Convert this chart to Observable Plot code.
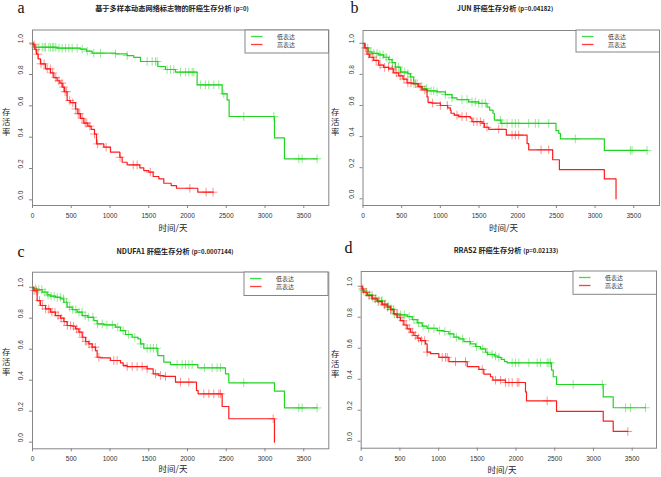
<!DOCTYPE html>
<html><head><meta charset="utf-8">
<script src="https://cdn.jsdelivr.net/npm/d3@7"></script>
<script src="https://cdn.jsdelivr.net/npm/@observablehq/plot@0.6"></script>
<style>
body{margin:0;background:#fff;}
#root{position:relative;width:661px;height:477px;overflow:hidden;background:#fff;font-family:"Noto Sans CJK SC","Liberation Sans",sans-serif;}
.abs{position:absolute;white-space:nowrap;line-height:1;}
.ctr{transform:translate(-50%,-50%);}
.panel{position:absolute;}
.title{font-size:7.2px;font-weight:bold;color:#222;}
.title small{font-size:6px;font-weight:bold;}
.letter{font-family:"Liberation Serif",serif;font-size:16px;color:#111;}
.ylab{font-size:8.4px;color:#222;writing-mode:vertical-rl;text-orientation:upright;letter-spacing:1.6px;transform:translateX(-50%);}
.xlab{font-size:8.5px;color:#222;}
</style></head><body><div id="root"></div>
<script>
// ---------- data ----------
const xTicks = [0, 500, 1000, 1500, 2000, 2500, 3000, 3500];
const yTicks = [0, 0.2, 0.4, 0.6, 0.8, 1.0];
const legendLabels = ["低表达", "高表达"];
const seriesColors = ["#22d422", "#ff1c1c"];
const panelLetters = ["a", "b", "c", "d"];
const panelTitles = ["基于多样本动态网络标志物的肝癌生存分析", "JUN 肝癌生存分析", "NDUFA1 肝癌生存分析", "RRAS2 肝癌生存分析"];
const panelPValues = ["(p=0)", "(p=0.04182)", "(p=0.0007144)", "(p=0.02133)"];
const xLabel = "时间/天";
const yLabel = "存活率";

// step points [time, survival]; last entry = end of follow-up
const aLow = [[0,1],[17,0.974],[318,0.968],[619,0.962],[697,0.949],[770,0.936],[1071,0.932],[1221,0.921],[1307,0.909],[1393,0.883],[1617,0.851],[1716,0.832],[1845,0.815],[2124,0.734],[2447,0.677],[2511,0.638],[2537,0.532],[3122,0.396],[3251,0.262],[3672,0.262]];
const aLowCensor = [40,82,125,150,168,211,232,260,275,300,340,383,426,469,512,576,641,705,791,877,1071,1221,1479,1544,1587,1608,1737,1780,1823,1909,1974,2017,2060,2081,2167,2231,2274,2339,2404,2468,2726,3114,3436,3479,3672];
const aHigh = [[0,1],[9,0.99],[30,0.96],[52,0.93],[73,0.9],[103,0.868],[168,0.836],[232,0.81],[275,0.78],[318,0.76],[353,0.745],[383,0.72],[413,0.69],[447,0.634],[490,0.62],[555,0.58],[585,0.55],[619,0.52],[662,0.49],[714,0.47],[757,0.45],[800,0.42],[826,0.357],[920,0.336],[1006,0.304],[1127,0.272],[1157,0.24],[1221,0.223],[1385,0.204],[1436,0.187],[1500,0.177],[1557,0.149],[1630,0.134],[1694,0.106],[1789,0.091],[1858,0.074],[2133,0.049],[2331,0.049]];
const aHighCensor = [20,45,70,110,150,190,230,260,300,340,380,400,420,440,480,520,560,590,610,640,680,700,740,800,840,950,1130,1300,1350,1520,2030,2240,2330];

const bLow = [[0,1],[30,0.97],[73,0.945],[116,0.935],[203,0.925],[267,0.91],[332,0.895],[375,0.875],[418,0.847],[483,0.815],[578,0.805],[612,0.783],[655,0.74],[707,0.723],[763,0.709],[828,0.694],[957,0.687],[1065,0.67],[1151,0.649],[1215,0.638],[1366,0.623],[1496,0.613],[1603,0.59],[1638,0.57],[1681,0.55],[1698,0.506],[1784,0.485],[2495,0.438],[2530,0.421],[2552,0.385],[3120,0.311],[3672,0.311]];
const bLowCensor = [60,100,140,180,220,260,300,340,380,420,460,500,540,580,620,660,700,760,820,880,914,957,1065,1151,1280,1345,1409,1452,1496,1539,1582,1776,1797,1862,1927,1970,2013,2142,2228,2271,2401,2745,3457,3478,3672];
const bHigh = [[0,1],[17,0.97],[52,0.93],[86,0.91],[138,0.89],[203,0.86],[267,0.845],[332,0.835],[397,0.81],[461,0.79],[517,0.77],[569,0.745],[634,0.74],[720,0.72],[763,0.7],[828,0.655],[841,0.62],[892,0.615],[1000,0.6],[1095,0.585],[1129,0.57],[1138,0.55],[1181,0.538],[1237,0.528],[1388,0.519],[1409,0.496],[1539,0.485],[1569,0.46],[1625,0.447],[1853,0.41],[2121,0.355],[2142,0.315],[2452,0.251],[2539,0.187],[3120,0.128],[3271,0],[3271,0]];
const bHighCensor = [30,70,120,170,220,280,330,380,430,480,530,580,620,680,740,800,900,1000,1090,1215,1280,1336,1431,1474,1517,1560,1603,1754,1927,1970,2013,2302,2401];

const cLow = [[0,1],[17,0.99],[60,0.985],[125,0.968],[189,0.95],[232,0.942],[297,0.935],[361,0.925],[404,0.903],[447,0.871],[512,0.856],[576,0.839],[641,0.817],[714,0.806],[791,0.785],[834,0.763],[920,0.757],[1071,0.742],[1135,0.72],[1200,0.695],[1286,0.677],[1359,0.667],[1393,0.634],[1436,0.606],[1617,0.559],[1694,0.516],[1780,0.501],[2133,0.48],[2490,0.441],[2533,0.383],[3122,0.329],[3251,0.221],[3672,0.221]];
const cLowCensor = [40,80,120,160,200,240,280,320,360,400,440,480,520,560,600,640,680,720,780,840,900,960,1030,1100,1170,1240,1320,1400,1480,1520,1560,1600,1866,1931,1974,2017,2060,2219,2318,2382,2425,2726,3436,3479,3672];
const cHigh = [[0,1],[17,0.978],[60,0.914],[103,0.882],[168,0.86],[232,0.839],[297,0.817],[361,0.8],[404,0.778],[447,0.753],[512,0.748],[555,0.731],[598,0.71],[641,0.677],[684,0.649],[727,0.634],[770,0.613],[813,0.591],[834,0.548],[877,0.544],[1006,0.527],[1135,0.512],[1170,0.495],[1221,0.488],[1479,0.473],[1557,0.441],[1630,0.43],[1694,0.424],[1845,0.387],[2116,0.333],[2137,0.312],[2447,0.23],[2533,0.151],[3122,0],[3122,0]];
const cHighCensor = [20,50,90,130,170,210,250,290,330,370,410,450,490,530,570,610,650,690,730,770,810,856,1049,1092,1221,1286,1350,1415,1479,1587,1651,1716,1909,2017,2210,2275,2339,2404,2425,3105];

const dLow = [[0,1],[13,0.972],[34,0.961],[77,0.944],[142,0.923],[207,0.908],[271,0.886],[336,0.871],[379,0.854],[413,0.822],[443,0.815],[594,0.804],[659,0.785],[723,0.763],[788,0.742],[852,0.729],[982,0.714],[1068,0.708],[1132,0.692],[1197,0.671],[1261,0.66],[1326,0.643],[1412,0.628],[1477,0.611],[1541,0.596],[1606,0.574],[1632,0.56],[1722,0.55],[1765,0.541],[1808,0.528],[1851,0.513],[1886,0.506],[2458,0.459],[2480,0.416],[2523,0.366],[3126,0.286],[3255,0.216],[3672,0.216]];
const dLowCensor = [30,70,110,150,190,230,270,310,350,390,430,470,510,560,620,680,740,800,870,940,1010,1080,1150,1230,1310,1400,1490,1570,1627,1692,1735,1778,1950,1993,2036,2165,2273,2316,2402,2424,2445,2738,3113,3414,3478,3672];
const dHigh = [[0,1],[13,0.983],[34,0.961],[77,0.94],[142,0.918],[207,0.901],[271,0.88],[336,0.865],[379,0.849],[422,0.822],[465,0.8],[508,0.778],[551,0.75],[594,0.725],[637,0.703],[680,0.682],[723,0.665],[766,0.649],[831,0.628],[852,0.575],[895,0.565],[1003,0.541],[1132,0.513],[1369,0.481],[1520,0.463],[1584,0.433],[1670,0.416],[1700,0.394],[1864,0.379],[2122,0.318],[2135,0.26],[2523,0.193],[3126,0.13],[3255,0.063],[3444,0.063]];
const dHighCensor = [20,60,100,140,180,220,260,300,340,380,420,460,500,540,580,620,660,700,740,780,820,852,1046,1089,1111,1218,1347,1563,1735,1800,1864,1907,1950,2015,2036,2402,3444];

const panelSeries = [
  [[aLow, aLowCensor], [aHigh, aHighCensor]],
  [[bLow, bLowCensor], [bHigh, bHighCensor]],
  [[cLow, cLowCensor], [cHigh, cHighCensor]],
  [[dLow, dLowCensor], [dHigh, dHighCensor]]
];

// ---------- layout ----------
const layouts = [
  {left:0, top:0, w:330, h:235, mL:32, mR:1.7, mT:29.5, mB:30, xMax:3823, yDom:[-0.036,1.084],
   title:[172,9], letter:[17.5,13], ylab:[6,113], xlab:[173,227], legend:[245,29.5,83.5,23]},
  {left:330, top:0, w:331, h:235, mL:32.5, mR:2, mT:30, mB:30, xMax:3833, yDom:[-0.043,1.082],
   title:[175,9], letter:[20.5,13.3], ylab:[5,113], xlab:[173.5,227], legend:[245.5,30,83.5,22]},
  {left:0, top:235, w:330, h:242, mL:32, mR:1.7, mT:36.7, mB:28.7, xMax:3823, yDom:[-0.043,1.097],
   title:[175,16.7], letter:[17.5,21.7], ylab:[6,118], xlab:[173,233], legend:[244.3,36.7,84,23.5]},
  {left:330, top:235, w:331, h:242, mL:30.7, mR:5, mT:36, mB:29.3, xMax:3814, yDom:[-0.045,1.095],
   title:[176,15.7], letter:[14.5,18.3], ylab:[5,120], xlab:[172,234], legend:[242.7,36,83.5,23.3]}
];

function survAt(steps, t) {
  let s = steps[0][1];
  for (const [tt, ss] of steps) { if (tt <= t) s = ss; else break; }
  return s;
}

const SVGNS = "http://www.w3.org/2000/svg";
const root = document.getElementById("root");
layouts.forEach((L, i) => {
  const wrap = document.createElement("div");
  wrap.className = "panel";
  wrap.style.left = L.left + "px"; wrap.style.top = L.top + "px";
  wrap.style.width = L.w + "px"; wrap.style.height = L.h + "px";
  const marks = [
    Plot.frame({stroke: "#858585", strokeWidth: 1}),
    Plot.axisX(xTicks, {anchor: "bottom", tickSize: 3, tickPadding: 5, stroke: "#858585", fill: "#333",
      fontSize: 6.6, tickFormat: d => String(d), label: null}),
    Plot.axisY(yTicks, {anchor: "left", tickSize: 3, stroke: "#858585", tickFormat: () => "", label: null}),
    Plot.text(yTicks, {y: d => d, text: d => d.toFixed(1), frameAnchor: "left", dx: -11.5, rotate: -90,
      fontSize: 6.6, fill: "#333"})
  ];
  panelSeries[i].forEach(([steps, cens], k) => {
    marks.push(Plot.line(steps, {x: d => d[0], y: d => d[1], curve: "step-after", stroke: seriesColors[k], strokeWidth: 1.2}));
    marks.push(Plot.dot(cens, {x: t => t, y: t => survAt(steps, t), symbol: "plus", r: 2.9, stroke: seriesColors[k], strokeWidth: 0.7, strokeOpacity: 0.7}));
  });
  const svg = Plot.plot({
    width: L.w, height: L.h,
    marginLeft: L.mL, marginRight: L.mR, marginTop: L.mT, marginBottom: L.mB,
    style: {fontFamily: "'Liberation Sans', Arial, sans-serif", background: "transparent", color: "#333"},
    x: {domain: [0, L.xMax]},
    y: {domain: L.yDom},
    marks
  });
  wrap.appendChild(svg);

  // text overlays
  const t = document.createElement("div");
  t.className = "abs ctr title";
  t.style.left = L.title[0] + "px"; t.style.top = L.title[1] + "px";
  t.innerHTML = panelTitles[i] + "&nbsp;<small>" + panelPValues[i] + "</small>";
  wrap.appendChild(t);

  const lt = document.createElement("div");
  lt.className = "abs letter";
  lt.style.left = (L.letter[0]) + "px"; lt.style.top = Math.max(0, L.letter[1] - 13) + "px";
  lt.textContent = panelLetters[i];
  wrap.appendChild(lt);

  const yl = document.createElement("div");
  yl.className = "abs ylab";
  yl.style.left = L.ylab[0] + "px"; yl.style.top = (L.ylab[1] - 5) + "px";
  yl.textContent = yLabel;
  wrap.appendChild(yl);

  const xl = document.createElement("div");
  xl.className = "abs ctr xlab";
  xl.style.left = L.xlab[0] + "px"; xl.style.top = L.xlab[1] + "px";
  xl.textContent = xLabel;
  wrap.appendChild(xl);

  // legend (inline svg)
  const [lx, ly, lw, lh] = L.legend;
  const lg = document.createElementNS(SVGNS, "svg");
  lg.setAttribute("width", lw + 2); lg.setAttribute("height", lh + 2);
  lg.style.cssText = `position:absolute;left:${lx - 1}px;top:${ly - 1}px;overflow:visible`;
  const box = document.createElementNS(SVGNS, "rect");
  box.setAttribute("x", 1); box.setAttribute("y", 1); box.setAttribute("width", lw); box.setAttribute("height", lh);
  box.setAttribute("fill", "#fff"); box.setAttribute("stroke", "#858585"); box.setAttribute("stroke-width", 1);
  lg.appendChild(box);
  legendLabels.forEach((lab, k) => {
    const y = 1 + 6.5 + k * 8;
    const ln = document.createElementNS(SVGNS, "line");
    ln.setAttribute("x1", 7); ln.setAttribute("x2", 18.5); ln.setAttribute("y1", y); ln.setAttribute("y2", y);
    ln.setAttribute("stroke", seriesColors[k]); ln.setAttribute("stroke-width", 1.3); ln.setAttribute("stroke-opacity", 0.85);
    lg.appendChild(ln);
    const tx = document.createElementNS(SVGNS, "text");
    tx.setAttribute("x", 42); tx.setAttribute("y", y);
    tx.setAttribute("text-anchor", "middle"); tx.setAttribute("dominant-baseline", "central");
    tx.setAttribute("font-size", 6); tx.setAttribute("fill", "#333");
    tx.setAttribute("font-family", "Noto Sans CJK SC, sans-serif");
    tx.textContent = lab;
    lg.appendChild(tx);
  });
  wrap.appendChild(lg);
  root.appendChild(wrap);
});
</script></body></html>
